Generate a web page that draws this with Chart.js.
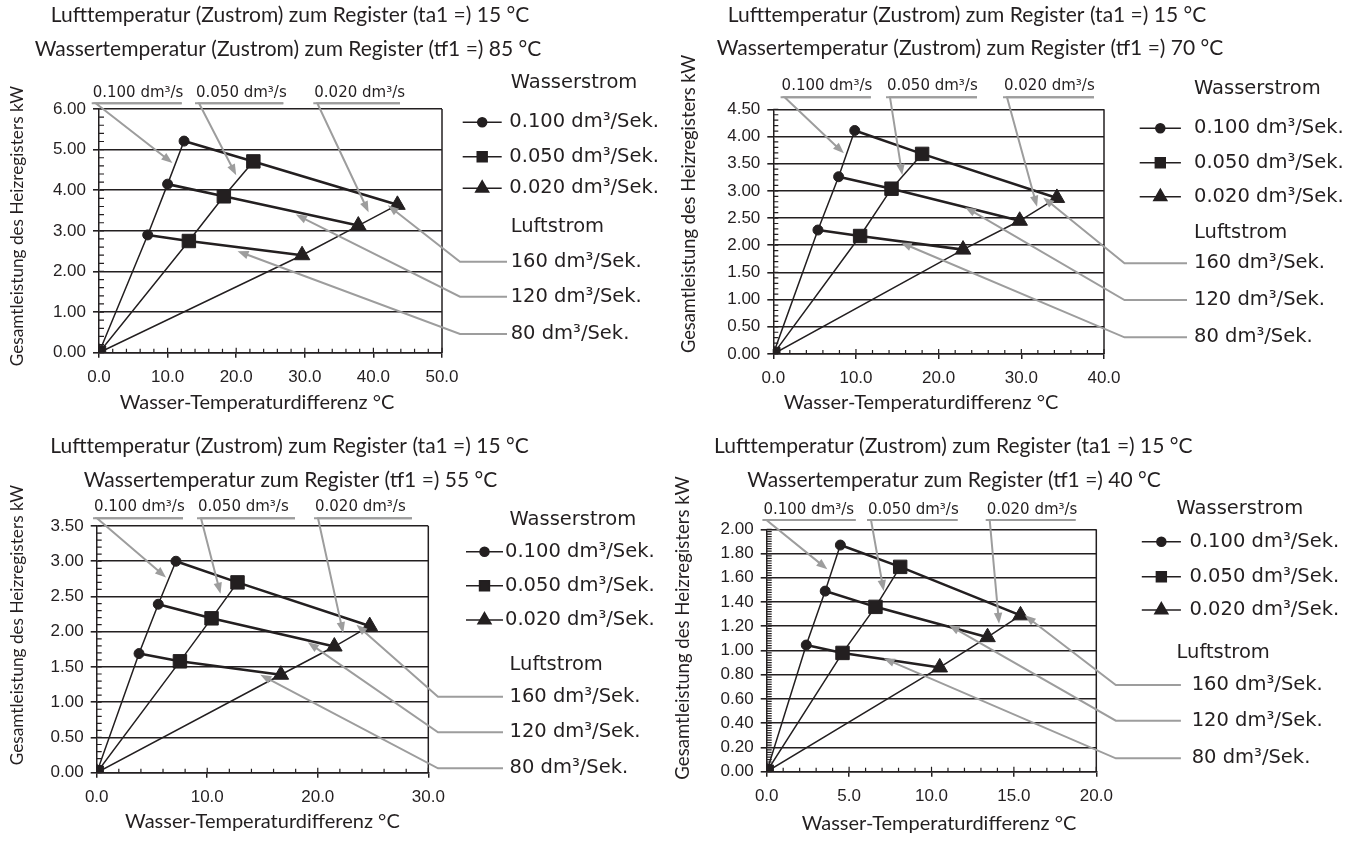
<!DOCTYPE html>
<html>
<head>
<meta charset="utf-8">
<script src="https://cdn.jsdelivr.net/npm/chart.js@4.4.1/dist/chart.umd.min.js"></script>
<style>
  html, body { margin: 0; background: #fff; }
  #wrap { position: relative; width: 1357px; height: 848px; overflow: hidden; }
  canvas { position: absolute; }
</style>
</head>
<body>
<div id="wrap">
  <canvas id="c85"></canvas>
  <canvas id="c70"></canvas>
  <canvas id="c55"></canvas>
  <canvas id="c40"></canvas>
</div>
<script>
// Heizregister-Leistung: Wasserstrom-Kurven (0.100 / 0.050 / 0.020 dm3/s)
// Punkte je Kurve: Ursprung, 80, 120, 160 dm3/s Luftstrom

const waterLabels = ['0.100 dm³/Sek.', '0.050 dm³/Sek.', '0.020 dm³/Sek.'];
const waterShort = ['0.100 dm³/s', '0.050 dm³/s', '0.020 dm³/s'];
const airLabels = ['160 dm³/Sek.', '120 dm³/Sek.', '80 dm³/Sek.'];

// tf1 = 85 °C
const dT85_w100 = [0, 7.1, 10.0, 12.4];
const kW85_w100 = [0, 2.90, 4.15, 5.21];
const dT85_w050 = [0, 13.1, 18.2, 22.5];
const kW85_w050 = [0, 2.75, 3.85, 4.71];
const dT85_w020 = [0, 29.6, 37.8, 43.5];
const kW85_w020 = [0, 2.40, 3.13, 3.64];

// tf1 = 70 °C
const dT70_w100 = [0, 5.4, 7.9, 9.85];
const kW70_w100 = [0, 2.28, 3.26, 4.11];
const dT70_w050 = [0, 10.5, 14.3, 18.0];
const kW70_w050 = [0, 2.17, 3.04, 3.68];
const dT70_w020 = [0, 22.95, 29.8, 34.3];
const kW70_w020 = [0, 1.92, 2.45, 2.87];

// tf1 = 55 °C
const dT55_w100 = [0, 3.83, 5.57, 7.17];
const kW55_w100 = [0, 1.69, 2.39, 3.00];
const dT55_w050 = [0, 7.53, 10.39, 12.74];
const kW55_w050 = [0, 1.58, 2.19, 2.70];
const dT55_w020 = [0, 16.66, 21.5, 24.7];
const kW55_w020 = [0, 1.39, 1.79, 2.08];

// tf1 = 40 °C
const dT40_w100 = [0, 2.4, 3.55, 4.47];
const kW40_w100 = [0, 1.045, 1.49, 1.87];
const dT40_w050 = [0, 4.6, 6.6, 8.1];
const kW40_w050 = [0, 0.98, 1.36, 1.69];
const dT40_w020 = [0, 10.5, 13.4, 15.4];
const kW40_w020 = [0, 0.86, 1.11, 1.29];

// Achsen: [max, Schritt, Nebenschritt]
const xAxis85 = [50, 10, 2], yAxis85 = [6, 1, 0.2];
const xAxis70 = [40, 10, 2], yAxis70 = [4.5, 0.5, 0.1];
const xAxis55 = [30, 10, 2], yAxis55 = [3.5, 0.5, 0.1];
const xAxis40 = [20, 5, 1], yAxis40 = [2, 0.2, 0.02];

const titleAir = 'Lufttemperatur (Zustrom) zum Register (ta1 =) 15 °C';
const titles85 = [titleAir, 'Wassertemperatur (Zustrom) zum Register (tf1 =) 85 °C'];
const titles70 = [titleAir, 'Wassertemperatur (Zustrom) zum Register (tf1 =) 70 °C'];
const titles55 = [titleAir, 'Wassertemperatur zum Register (tf1 =) 55 °C'];
const titles40 = [titleAir, 'Wassertemperatur zum Register (tf1 =) 40 °C'];

const INK = '#231f20';
const GRAY = '#9d9d9d';
const NARROW = 'Lato, "DejaVu Sans", sans-serif';
const WIDE = '"DejaVu Sans", sans-serif';
const TICK = '"Liberation Sans", Arial, sans-serif';

// Seitenlayout (Pixel, relativ zur Panel-Ecke) und Pfeilziele (Datenkoordinaten)
const panels = [
  { id: 'c85', pos: [0, 0, 680, 420], shift: 0, area: [99, 109, 442, 352.7],
    x: xAxis85, y: yAxis85, titles: titles85,
    series: [[dT85_w100, kW85_w100], [dT85_w050, kW85_w050], [dT85_w020, kW85_w020]],
    titlePos: [[290, 15], [288, 49]], xTitle: [257, 403], yTitle: [17, 226, 17.2],
    legend: { headX: 510.7, headY: 82.7, rows: [122.3, 156.7, 188.3], line: [462.7, 501.7], textX: 509.3,
              luftY: 226.7, airRows: [261.7, 296.7, 334], airLine: [460, 507], airTextX: 510.7 },
    top: { textY: 93.3, lineY: 103.3, spans: [[91.7, 181.7], [195, 283.3], [313.3, 400]] },
    tipsWater: [[10.7, 4.67], [20.0, 4.37], [39.3, 3.46]],
    tipsAir: [[42.1, 3.63], [28.7, 3.40], [20.2, 2.50]] },
  { id: 'c70', pos: [680, 0, 677, 420], shift: 12, area: [93.3, 109.3, 424, 354],
    x: xAxis70, y: yAxis70, titles: titles70,
    series: [[dT70_w100, kW70_w100], [dT70_w050, kW70_w050], [dT70_w020, kW70_w020]],
    titlePos: [[287, 15], [290, 48.3]], xTitle: [241, 403], yTitle: [9, 204, 18.3],
    legend: { headX: 514, headY: 89.3, rows: [128.3, 162.7, 196.7], line: [459.7, 500.9], textX: 514,
              luftY: 233.3, airRows: [263.3, 300, 337.3], airLine: [444.5, 507], airTextX: 514 },
    top: { textY: 86, lineY: 97.3, spans: [[100.6, 190.8], [206, 297], [323, 414]] },
    tipsWater: [[8.54, 3.69], [15.6, 3.29], [31.9, 2.71]],
    tipsAir: [[32.65, 2.88], [23.2, 2.70], [15.4, 2.05]] },
  { id: 'c55', pos: [0, 420, 680, 428], shift: 0, area: [96.7, 106, 428.3, 352.7],
    x: xAxis55, y: yAxis55, titles: titles55,
    series: [[dT55_w100, kW55_w100], [dT55_w050, kW55_w050], [dT55_w020, kW55_w020]],
    titlePos: [[289.5, 26.7], [290.5, 60]], xTitle: [262.4, 401.7], yTitle: [17, 205, 17.2],
    legend: { headX: 509.5, headY: 100, rows: [131.7, 165.7, 200], line: [466, 503], textX: 505,
              luftY: 245, airRows: [276.7, 312.3, 348.3], airLine: [438, 503], airTextX: 509.5 },
    top: { textY: 87.3, lineY: 98.3, spans: [[93, 183], [197, 295], [314, 412]] },
    tipsWater: [[6.27, 2.77], [11.2, 2.54], [22.3, 1.98]],
    tipsAir: [[23.5, 2.10], [19.1, 1.85], [14.8, 1.39]] },
  { id: 'c40', pos: [680, 420, 677, 428], shift: 12, area: [86.7, 109.3, 416.3, 351.7],
    x: xAxis40, y: yAxis40, titles: titles40,
    series: [[dT40_w100, kW40_w100], [dT40_w050, kW40_w050], [dT40_w020, kW40_w020]],
    titlePos: [[273.3, 26.7], [274, 60]], xTitle: [259, 403.3], yTitle: [3.3, 208, 18.6],
    legend: { headX: 496.5, headY: 89.3, rows: [121.7, 156.7, 190], line: [461.8, 500.9], textX: 509.5,
              luftY: 233.3, airRows: [265, 300.7, 338.3], airLine: [435.8, 500.9], airTextX: 511.7 },
    top: { textY: 90, lineY: 100, spans: [[82.4, 175.6], [187, 277.5], [305.7, 395.5]] },
    tipsWater: [[3.68, 1.67], [7.1, 1.49], [14.1, 1.22]],
    tipsAir: [[15.66, 1.29], [11.05, 1.21], [7.1, 0.935]] }
];

const markers = [
  { pointStyle: 'circle', radius: 5, legendRadius: 4.5 },
  { pointStyle: 'rect', radius: 9.5, legendRadius: 7 },
  { pointStyle: 'triangle', radius: 9, legendRadius: 7.5 }
];

function toPoints(xs, ys) {
  return xs.map((x, i) => ({ x, y: ys[i] }));
}

function grayArrow(ctx, pts) {
  const n = pts.length;
  const [ax, ay] = pts[n - 2], [tx, ty] = pts[n - 1];
  const ang = Math.atan2(ty - ay, tx - ax);
  const L = 11, W = 4.2;
  ctx.save();
  ctx.strokeStyle = GRAY;
  ctx.fillStyle = GRAY;
  ctx.lineWidth = 2;
  ctx.beginPath();
  ctx.moveTo(pts[0][0], pts[0][1]);
  for (let i = 1; i < n - 1; i++) ctx.lineTo(pts[i][0], pts[i][1]);
  ctx.lineTo(tx - (L - 2) * Math.cos(ang), ty - (L - 2) * Math.sin(ang));
  ctx.stroke();
  ctx.beginPath();
  ctx.moveTo(tx, ty);
  ctx.lineTo(tx - L * Math.cos(ang) + W * Math.sin(ang), ty - L * Math.sin(ang) - W * Math.cos(ang));
  ctx.lineTo(tx - L * Math.cos(ang) - W * Math.sin(ang), ty - L * Math.sin(ang) + W * Math.cos(ang));
  ctx.closePath();
  ctx.fill();
  ctx.restore();
}

// Zeichnet Titel, Achsentitel, Legende, Nebenstriche und Hinweispfeile
const decor = {
  id: 'decor',
  afterDraw(chart) {
    const p = chart.options.plugins.decor.panel;
    const ctx = chart.ctx;
    const xs = chart.scales.x, ys = chart.scales.y;
    const { left, right, top, bottom } = chart.chartArea;

    ctx.save();
    // Rahmen rechts
    ctx.strokeStyle = INK;
    ctx.lineWidth = 1.5;
    ctx.beginPath();
    ctx.moveTo(right, top);
    ctx.lineTo(right, bottom);
    ctx.stroke();

    // Nebenstriche
    ctx.lineWidth = 1.2;
    ctx.beginPath();
    const [xMax, xStep, xMinor] = p.x;
    for (let v = 0; v <= xMax + 1e-9; v += xMinor) {
      const px = xs.getPixelForValue(v);
      const major = Math.abs(v / xStep - Math.round(v / xStep)) < 1e-6;
      ctx.moveTo(px, bottom);
      ctx.lineTo(px, bottom - (major ? 5 : 4));
    }
    const [yMax, , yMinor] = p.y;
    for (let v = 0; v <= yMax + 1e-9; v += yMinor) {
      const py = ys.getPixelForValue(v);
      ctx.moveTo(left, py);
      ctx.lineTo(left + 5, py);
    }
    ctx.stroke();

    // ab hier Layout-Koordinaten relativ zur Panel-Ecke
    ctx.translate(p.shift, 0);
    const px = v => xs.getPixelForValue(v) - p.shift;
    const py = v => ys.getPixelForValue(v);

    // Titel
    ctx.fillStyle = INK;
    ctx.textBaseline = 'middle';
    ctx.textAlign = 'center';
    ctx.font = '21px ' + NARROW;
    p.titles.forEach((t, i) => ctx.fillText(t, p.titlePos[i][0], p.titlePos[i][1]));

    // Achsentitel
    ctx.font = '20px ' + NARROW;
    ctx.fillText('Wasser-Temperaturdifferenz °C', p.xTitle[0], p.xTitle[1]);
    ctx.save();
    ctx.translate(p.yTitle[0], p.yTitle[1]);
    ctx.rotate(-Math.PI / 2);
    ctx.font = p.yTitle[2] + 'px ' + NARROW;
    ctx.fillText('Gesamtleistung des Heizregisters kW', 0, 0);
    ctx.restore();

    // Legende Wasserstrom
    const lg = p.legend;
    ctx.textAlign = 'left';
    ctx.font = '19.5px ' + WIDE;
    ctx.fillText('Wasserstrom', lg.headX, lg.headY);
    lg.rows.forEach((ry, i) => {
      ctx.strokeStyle = INK;
      ctx.fillStyle = INK;
      ctx.lineWidth = 1.5;
      ctx.beginPath();
      ctx.moveTo(lg.line[0], ry);
      ctx.lineTo(lg.line[1], ry);
      ctx.stroke();
      const m = markers[i];
      Chart.helpers.drawPoint(ctx, { pointStyle: m.pointStyle, radius: m.legendRadius, rotation: 0, borderWidth: 1 },
        (lg.line[0] + lg.line[1]) / 2, ry);
      ctx.fillStyle = INK;
      ctx.fillText(waterLabels[i], lg.textX, ry);
    });

    // Legende Luftstrom mit Hinweislinien
    ctx.fillText('Luftstrom', lg.headX, lg.luftY);
    lg.airRows.forEach((ry, i) => {
      const tip = p.tipsAir[i];
      grayArrow(ctx, [[lg.airLine[1], ry], [lg.airLine[0], ry], [px(tip[0]), py(tip[1])]]);
      ctx.fillStyle = INK;
      ctx.fillText(airLabels[i], lg.airTextX, ry);
    });

    // Beschriftungen oben mit Pfeilen
    ctx.font = '15px ' + WIDE;
    p.top.spans.forEach((sp, i) => {
      const tip = p.tipsWater[i];
      grayArrow(ctx, [[sp[1], p.top.lineY], [sp[0] + 4, p.top.lineY], [px(tip[0]), py(tip[1])]]);
      ctx.strokeStyle = GRAY;
      ctx.lineWidth = 2;
      ctx.beginPath();
      ctx.moveTo(sp[0], p.top.lineY);
      ctx.lineTo(sp[1], p.top.lineY);
      ctx.stroke();
      ctx.fillStyle = INK;
      ctx.fillText(waterShort[i], sp[0] + 1, p.top.textY);
    });
    ctx.restore();
  }
};

panels.forEach(p => {
  const canvas = document.getElementById(p.id);
  const [cx, cy, cw0, ch] = p.pos;
  const cw = cw0 + p.shift;
  canvas.width = cw;
  canvas.height = ch;
  canvas.style.left = (cx - p.shift) + 'px';
  canvas.style.top = cy + 'px';
  canvas.style.width = cw + 'px';
  canvas.style.height = ch + 'px';
  const aL = p.area[0] + p.shift, aT = p.area[1], aR = p.area[2] + p.shift, aB = p.area[3];

  const water = p.series.map((s, i) => ({
    label: waterLabels[i],
    data: toPoints(s[0], s[1]),
    showLine: true,
    borderColor: INK,
    backgroundColor: INK,
    borderWidth: 1.5,
    pointStyle: markers[i].pointStyle,
    pointRadius: markers[i].radius,
    pointBorderWidth: 1,
    order: 1
  }));
  // Luftstrom-Linien verbinden die Punkte gleicher Luftmenge
  const air = [3, 2, 1].map((k, i) => ({
    label: airLabels[i],
    data: p.series.map(s => ({ x: s[0][k], y: s[1][k] })),
    showLine: true,
    borderColor: INK,
    borderWidth: 2.6,
    pointRadius: 0,
    order: 2
  }));

  new Chart(canvas, {
    type: 'scatter',
    data: { datasets: [...water, ...air] },
    options: {
      responsive: false,
      animation: false,
      events: [],
      layout: { padding: { left: 0, top: aT, right: cw - aR, bottom: 0 } },
      plugins: {
        legend: { display: false },
        title: { display: false },
        tooltip: { enabled: false },
        decor: { panel: p }
      },
      scales: {
        x: {
          type: 'linear', min: 0, max: p.x[0],
          afterFit: s => { s.height = ch - aB; },
          ticks: { stepSize: p.x[1], color: INK, padding: 9,
                   font: { family: TICK, size: 17 }, callback: v => v.toFixed(1) },
          grid: { drawOnChartArea: false, drawTicks: true, tickLength: 5, color: INK, lineWidth: 1.5 },
          border: { color: INK, width: 1.5 }
        },
        y: {
          type: 'linear', min: 0, max: p.y[0],
          afterFit: s => { s.width = aL; },
          ticks: { stepSize: p.y[1], color: INK, padding: 7,
                   font: { family: TICK, size: 17 }, callback: v => v.toFixed(2) },
          grid: { color: INK, lineWidth: 1.6, tickLength: 6 },
          border: { color: INK, width: 1.5 }
        }
      }
    },
    plugins: [decor]
  });
});
</script>
</body>
</html>
